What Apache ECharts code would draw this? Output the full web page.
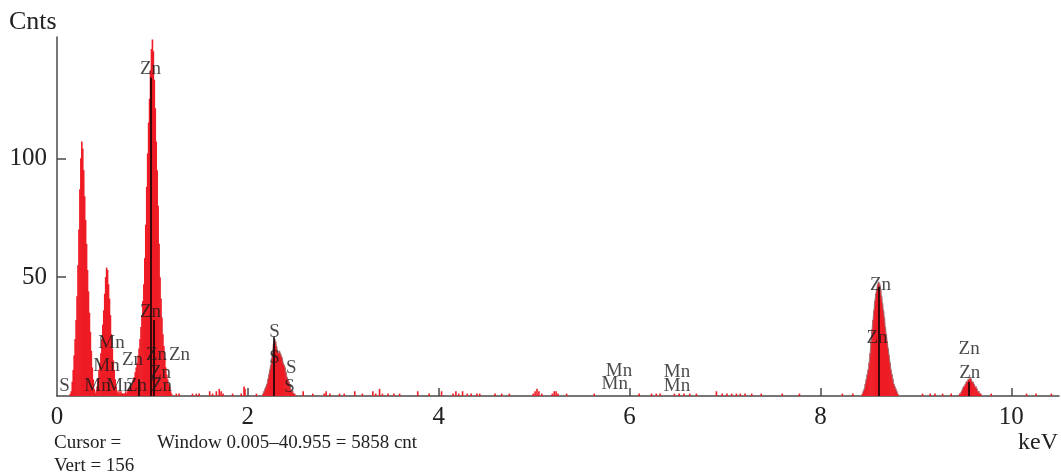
<!DOCTYPE html>
<html><head><meta charset="utf-8">
<script src="https://cdn.jsdelivr.net/npm/echarts@6/dist/echarts.min.js"></script>
<style>html,body{margin:0;padding:0;background:#fff}#c{width:1061px;height:475px}</style>
</head><body><div id="c"></div>
<script>
// ---- data ----
const channelWidth = 0.01; // keV per channel
const lowStart = 0.14;
const lowCounts = [1,
  2,6,11,17,24,32,42,55,70,87,100,107,104,95,84,74,64,53,44,35,27,19,12,7,3,
  1,
  2,4,7,11,14,18,24,30,36,43,50,54,53,47,41,34,26,20,15,11,7,4,2,
  1,2,1,2,1,1,
  1,1,2,1,2,3,3,4,4,5,7,8,10,12,14,17,20,24,29,34,40,47,58,72,88,102,115,125,137,146,150,145,133,121,107,95,80,64,50,41,33,26,21,16,12,9,7,5,4,2,1];
const sStart = 2.16;
const sCounts = [1,2,3,4,5,7,9,11,13,16,19,22,24,23,21,19,18,19,18,17,16,14,13,12,10,8,7,6,5,3,2,2,1,1];
const znKaStart = 8.44;
const znKaCounts = [1,2,3,5,7,9,11,14,18,23,28,32,36,40,43,45,47,48,47,45,42,39,36,33,29,26,23,20,17,14,11,9,7,5,4,3,2,1];
const znKbStart = 9.46;
const znKbCounts = [1,1,2,3,4,4,5,6,6,7,7,8,7,6,6,5,4,4,3,2,2,1,1];
const noise = [[1.25,1],[1.28,1],[1.42,1],[1.46,1],[1.49,1],[1.60,2],[1.63,1],[1.67,2],[1.70,3],[1.72,2],[1.74,1],[1.84,1],[1.93,1],[1.96,4],[1.97,3],[2.09,1],
  [2.58,2],[2.68,1],[2.80,1],[2.82,2],[2.86,1],[2.96,1],[3.01,1],[3.12,2],[3.20,1],[3.31,2],[3.34,1],[3.38,3],[3.41,1],[3.47,1],[3.53,1],[3.59,1],[3.78,2],[3.90,1],
  [4.03,2],[4.15,1],[4.18,2],[4.21,1],[4.25,2],[4.30,1],[4.34,1],[4.40,1],[4.43,1],[4.59,1],[4.66,1],[4.74,1],[4.99,1],[5.01,2],[5.03,3],[5.05,2],[5.08,1],
  [5.19,1],[5.21,2],[5.23,2],[5.25,1],[5.34,1],[5.63,1],[6.10,1],[6.23,1],[6.28,1],[6.32,1],[6.47,1],[6.52,1],[6.57,1],[6.63,1],[6.70,1],[6.91,2],[6.97,1],
  [7.02,1],[7.07,1],[7.12,1],[7.16,1],[7.21,1],[7.28,1],[7.38,1],[7.60,1],[7.78,1],[8.23,1],[8.34,1],[9.07,1],[9.15,1],[9.20,1],[9.28,1],[9.37,1],[9.79,1],
  [10.16,1],[10.26,1],[10.42,1]];
// element marker lines [keV, height]
const markerLines = [[0.987,134],[1.015,32],[0.855,7],[2.272,25],[8.615,46],[9.558,6]];
// element labels [text, keV, counts]
const elementLabels = [['Zn',0.98,137.4],['Zn',0.98,35.3],['Mn',0.571,22.3],['Mn',0.519,12.6],['Zn',0.791,15.1],
  ['Zn',1.043,17.2],['Zn',1.284,17.2],['Zn',1.085,9.7],['S',0.079,4.2],['Mn',0.425,4.2],['Mn',0.655,4.2],['Zn',0.833,4.2],
  ['Zn',1.095,4.2],['S',2.28,27],['S',2.28,15.8],['S',2.455,11.6],['S',2.437,3.7],['Mn',5.889,10.5],['Mn',5.844,4.9],
  ['Mn',6.497,10.2],['Mn',6.497,4.3],['Zn',8.629,46.6],['Zn',8.593,24.5],['Zn',9.558,19.6],['Zn',9.565,9.8]];
const xTicks = [0,2,4,6,8,10];
const yTicks = [50,100];
const yTitle = 'Cnts', xTitle = 'keV';
const infoLine1a = 'Cursor =', infoLine1b = 'Window 0.005\u201340.955 = 5858 cnt', infoLine2 = 'Vert = 156';

// ---- build ----
function channels(start, counts){
  return counts.map((c,i)=>[+(start + i*channelWidth).toFixed(3), c]);
}
const spectrum = [].concat(channels(lowStart,lowCounts), noise.filter(p=>p[0]<2.16), channels(sStart,sCounts),
  noise.filter(p=>p[0]>2.5 && p[0]<8.44), channels(znKaStart,znKaCounts), noise.filter(p=>p[0]>8.85 && p[0]<9.46),
  channels(znKbStart,znKbCounts), noise.filter(p=>p[0]>9.7));
const fit = [].concat(channels(sStart,sCounts), [[null,null]], channels(znKaStart,znKaCounts), [[null,null]], channels(znKbStart,znKbCounts));

const FONT = 'Liberation Serif';
const chart = echarts.init(document.getElementById('c'), null, {renderer:'canvas'});
chart.setOption({
  animation:false,
  backgroundColor:'#fff',
  grid:{left:57, right:2, top:37, bottom:79, containLabel:false},
  xAxis:{type:'value', min:0, max:10.5, interval:2,
    axisLine:{show:true, onZero:false, lineStyle:{color:'#4a4a4a', width:1.5}},
    axisTick:{show:true, inside:true, length:8, customValues:[2,4,6,8,10], lineStyle:{color:'#4a4a4a', width:1.5}},
    axisLabel:{customValues:xTicks, fontFamily:FONT, fontSize:25, color:'#222', margin:9},
    splitLine:{show:false}},
  yAxis:{type:'value', min:0, max:151, interval:50,
    axisLine:{show:true, lineStyle:{color:'#4a4a4a', width:1.5}},
    axisTick:{show:true, inside:true, length:9, customValues:yTicks, lineStyle:{color:'#4a4a4a', width:1.5}},
    axisLabel:{customValues:yTicks, fontFamily:FONT, fontSize:25, color:'#222', margin:10},
    splitLine:{show:false}},
  series:[
    {type:'bar', data:spectrum, barWidth:1.6, itemStyle:{color:'#ee1c25'}, z:2,
     markLine:{silent:true, symbol:['none','none'], label:{show:false},
       lineStyle:{color:'#000', width:1.5, type:'solid'},
       data:markerLines.map(m=>[{coord:[m[0],0]},{coord:[m[0],m[1]]}])}},
    {type:'line', data:fit, showSymbol:false, connectNulls:false, z:3,
     lineStyle:{color:'#8a8a8a', width:1, opacity:0.8}},
    {type:'scatter', symbolSize:0, z:5,
     data:elementLabels.map(l=>({name:l[0], value:[l[1],l[2]]})),
     label:{show:true, position:'inside', formatter:p=>p.name, fontFamily:FONT, fontSize:19, color:'#1a1a1a'}}
  ],
  graphic:[
    {type:'text', left:9, top:9, style:{text:yTitle, fontFamily:FONT, fontSize:26, fill:'#222'}},
    {type:'text', right:3, top:431, style:{text:xTitle, fontFamily:FONT, fontSize:24, fill:'#222'}},
    {type:'text', left:54, top:434, style:{text:infoLine1a, fontFamily:FONT, fontSize:19, fill:'#222'}},
    {type:'text', left:157, top:434, style:{text:infoLine1b, fontFamily:FONT, fontSize:19, fill:'#222'}},
    {type:'text', left:54, top:457, style:{text:infoLine2, fontFamily:FONT, fontSize:19, fill:'#222'}}
  ]
});
</script></body></html>
